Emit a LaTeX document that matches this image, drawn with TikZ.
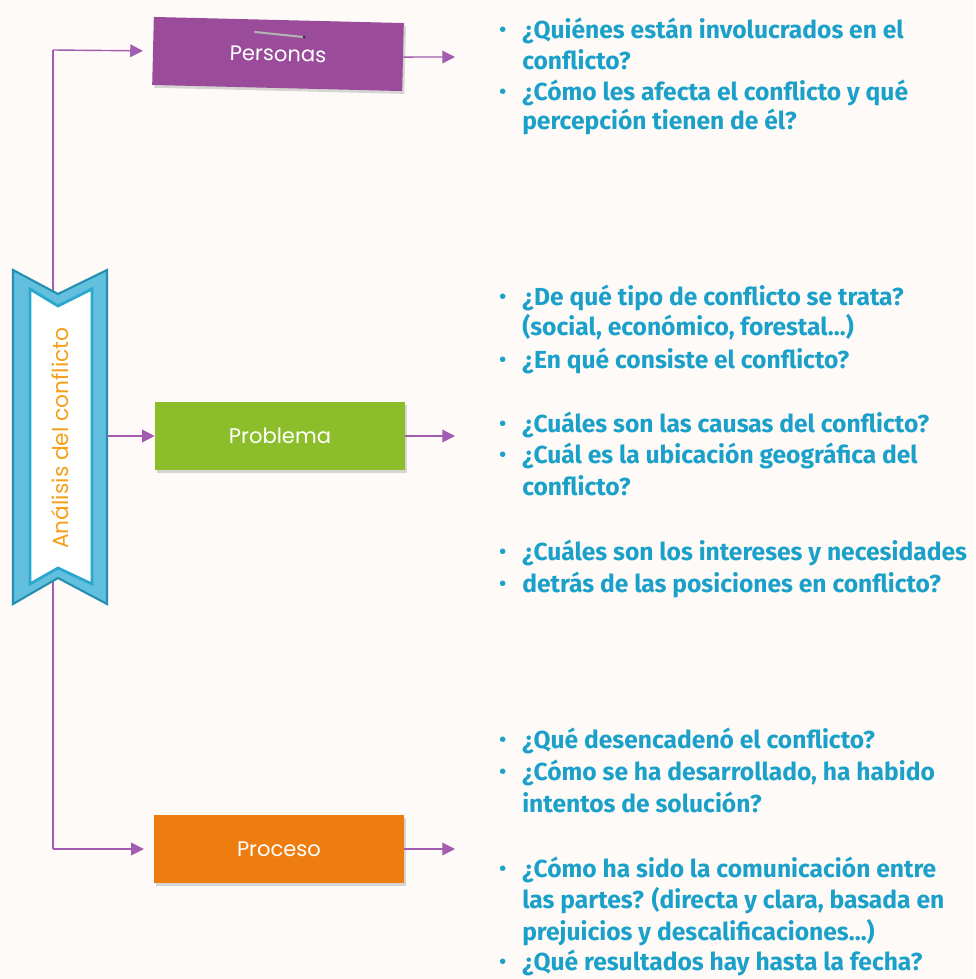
\documentclass[tikz,border=0pt]{standalone}
\usepackage{fontspec}
\setmainfont{Fira Sans}
\newfontfamily\letrero{Poppins}
\usepackage{tikz}
\usetikzlibrary{positioning,calc,arrows.meta,shadows}
\definecolor{fondo}{HTML}{FDFAF8}
\definecolor{morado}{HTML}{9A4C9B}
\definecolor{verde}{HTML}{8CBE2B}
\definecolor{naranja}{HTML}{EE7D10}
\definecolor{azul}{HTML}{1AA0C9}
\definecolor{lineamorada}{HTML}{A35DB0}
\definecolor{cian}{HTML}{2AA8CF}
\definecolor{cianclaro}{HTML}{62C0DE}
\definecolor{ocre}{HTML}{F6A01A}
\begin{document}
\begin{tikzpicture}[x=0.025cm,y=-0.025cm,
		linea/.style={draw=lineamorada,line width=1pt},
		conector/.style={linea,-{Triangle[length=9pt,width=9pt]}},
		caja/.style={minimum width=6.25cm,minimum height=1.7cm,text=white,font=\letrero\fontsize{15}{17}\selectfont,drop shadow={shadow xshift=1.5pt,shadow yshift=-2pt,opacity=0.3}},
		pregunta/.style={anchor=base west,inner sep=0pt,text=azul,font=\bfseries\fontsize{17.5}{20}\selectfont}]
		\fill[fondo] (0,0) rectangle (975,979);
		\useasboundingbox (0,0) rectangle (975,979);
		
		\coordinate (tronco-a) at (53,50);
		\coordinate (tronco-b) at (53,849);
		\coordinate (banner-e) at (107,436);
		\draw[linea] (tronco-a)--(tronco-b);
		
		\draw[fill=cianclaro,draw=cian!85!black,line width=1.5pt] (13,270)--(58,294)--(107,270)--(107,604)--(58,578)--(13,604)--cycle;
		\draw[fill=white,draw=cian,line width=2pt] (30,289)--(58,306)--(92,289)--(92,584)--(58,568)--(30,584)--cycle;
		\node[rotate=90,text=ocre,font=\letrero\fontsize{15.5}{17}\selectfont] (analisis) at (60,438) {Análisis del conflicto};
		
		\node[caja,fill=morado,rotate=-1.4] (personas) at (278,54) {Personas};
		\node[caja,fill=verde] (problema) at (280,436) {Problema};
		\node[caja,fill=naranja] (proceso) at (279,849) {Proceso};
		
		\draw[gray!60,line width=1.5pt,line cap=round] (255,32)--(303,37);
		\fill[black!80] (304,37) circle (1.5);
		
		\draw[conector,shorten >=7pt] (tronco-a)--(personas.west);
		\draw[conector] (banner-e)--(problema.west);
		\draw[conector,shorten >=7pt] (tronco-b)--(proceso.west);
		
		\coordinate (s-personas) at (455,57);
		\coordinate (s-problema) at (455,436);
		\coordinate (s-proceso) at (455,849);
		\draw[conector] (personas.east)--(s-personas);
		\draw[conector] (problema.east)--(s-problema);
		\draw[conector] (proceso.east)--(s-proceso);
		
		\foreach \n/\y/\t in {1/39/{¿Quiénes están involucrados en el},2/69/{conflicto?},3/100/{¿Cómo les afecta el conflicto y qué},4/130/{percepción tienen de él?},
			5/305/{¿De qué tipo de conflicto se trata?},6/335/{(social, económico, forestal…)},7/368/{¿En qué consiste el conflicto?},
			8/432/{¿Cuáles son las causas del conflicto?},9/463/{¿Cuál es la ubicación geográfica del},10/495/{conflicto?},
			11/560/{¿Cuáles son los intereses y necesidades},12/592/{detrás de las posiciones en conflicto?},
			13/748/{¿Qué desencadenó el conflicto?},14/780/{¿Cómo se ha desarrollado, ha habido},15/812/{intentos de solución?},
			16/877/{¿Cómo ha sido la comunicación entre},17/908/{las partes? (directa y clara, basada en},18/940/{prejuicios y descalificaciones…)},19/970/{¿Qué resultados hay hasta la fecha?}}
			\node[pregunta] (linea\n) at (522,\y) {\t};
		
		\foreach \y in {39,100,305,368,432,463,560,592,748,780,877,970}
			\node[pregunta,font=\bfseries\fontsize{14}{16}\selectfont] (vineta\y) at (499,\y-2) {•};
	\end{tikzpicture}
\end{document}
